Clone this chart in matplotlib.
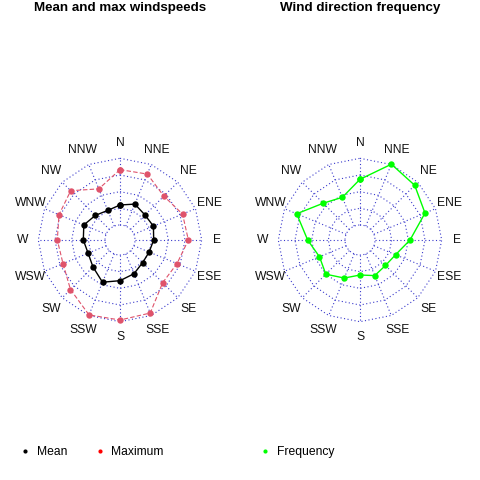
import numpy as np
import matplotlib
matplotlib.use("Agg")
import matplotlib.pyplot as plt
from matplotlib.lines import Line2D

plt.rcParams["font.family"] = ["Liberation Sans", "DejaVu Sans"]

directions = ["N", "NNE", "NE", "ENE", "E", "ESE", "SE", "SSE",
              "S", "SSW", "SW", "WSW", "W", "WNW", "NW", "NNW"]

# values in grid units (0 = inner circle, 4 = outer ring)
mean_speed = [1.20, 1.43, 1.22, 1.27, 1.12, 0.99, 1.02, 1.29,
              1.54, 1.84, 1.39, 1.17, 1.30, 1.45, 1.19, 1.02]
max_speed = [3.32, 3.38, 2.82, 3.16, 3.20, 2.80, 2.72, 3.84,
             3.90, 3.96, 3.30, 2.80, 2.86, 3.06, 3.28, 2.42]
frequency = [2.74, 4.02, 3.74, 3.32, 2.10, 1.41, 1.26, 1.41,
             1.20, 1.57, 2.00, 1.73, 2.24, 3.21, 2.22, 1.87]
ring_levels = [1, 2, 3, 4]

GRID_C = "#3a3acc"
DOT = (0, (1, 2.2))

theta = np.deg2rad(np.arange(len(directions)) * 360 / len(directions))
theta_closed = np.append(theta, theta[0])


def closed(vals):
    return np.append(vals, vals[0])


def rose_axes(fig, rect):
    ax = fig.add_axes(rect, projection="polar")
    ax.set_theta_zero_location("N")
    ax.set_theta_direction(-1)
    ax.set_ylim(0, 4)
    ax.set_rorigin(-0.9)
    ax.grid(False)
    ax.set_xticks([])
    ax.set_yticks([])
    ax.set_frame_on(False)
    for sp in ax.spines.values():
        sp.set_visible(False)
    # inner circle
    tt = np.linspace(0, 2 * np.pi, 121)
    ax.plot(tt, np.zeros_like(tt), color=GRID_C, lw=0.8, ls=DOT, clip_on=False)
    # 16-gon rings
    for lev in ring_levels:
        ax.plot(theta_closed, np.full(theta_closed.shape, lev), color=GRID_C,
                lw=0.8, ls=DOT, clip_on=False)
    # spokes
    for t in theta:
        ax.plot([t, t], [0, ring_levels[-1]], color=GRID_C, lw=0.8, ls=DOT,
                clip_on=False)
    for t, lab in zip(theta, directions):
        ax.text(t, 4.92, lab, ha="center", va="center", fontsize=8.7,
                color="#111111", clip_on=False)
    return ax


fig = plt.figure(figsize=(4.8, 4.8), dpi=100)

R = 81.7
ax1 = rose_axes(fig, [(120 - R) / 480, (240 - R) / 480, 2 * R / 480, 2 * R / 480])
ax2 = rose_axes(fig, [(360 - R) / 480, (240 - R) / 480, 2 * R / 480, 2 * R / 480])

ax1.plot(theta_closed, closed(max_speed), color="#DF536B", lw=0.8,
         ls=(0, (4, 2)), marker="o", ms=4.6, mec="none", clip_on=False)
ax1.plot(theta_closed, closed(mean_speed), color="black", lw=1.0,
         marker="o", ms=4.6, mec="none", clip_on=False)
ax2.plot(theta_closed, closed(frequency), color="#00FF00", lw=1.0,
         marker="o", ms=4.6, mec="none", clip_on=False)

fig.text(120 / 480, 1 - 8 / 480, "Mean and max windspeeds", ha="center",
         va="center", fontsize=9.6, fontweight="bold")
fig.text(360 / 480, 1 - 8 / 480, "Wind direction frequency", ha="center",
         va="center", fontsize=9.6, fontweight="bold")


def key(color, label):
    return Line2D([0], [0], ls="", marker="o", ms=3, mec="none",
                  color=color, label=label)


fig.legend(handles=[key("black", "Mean"), key("#FF0000", "Maximum")],
           loc="center left", bbox_to_anchor=(19 / 480, 1 - 452 / 480),
           ncol=2, frameon=False, fontsize=8.7, borderpad=0, borderaxespad=0,
           handlelength=1.0, handletextpad=0.45, columnspacing=2.2)
fig.legend(handles=[key("#00FF00", "Frequency")],
           loc="center left", bbox_to_anchor=(259 / 480, 1 - 452 / 480),
           ncol=1, frameon=False, fontsize=8.7, borderpad=0, borderaxespad=0,
           handlelength=1.0, handletextpad=0.45)

fig.savefig("out.png", dpi=100, facecolor="white")
